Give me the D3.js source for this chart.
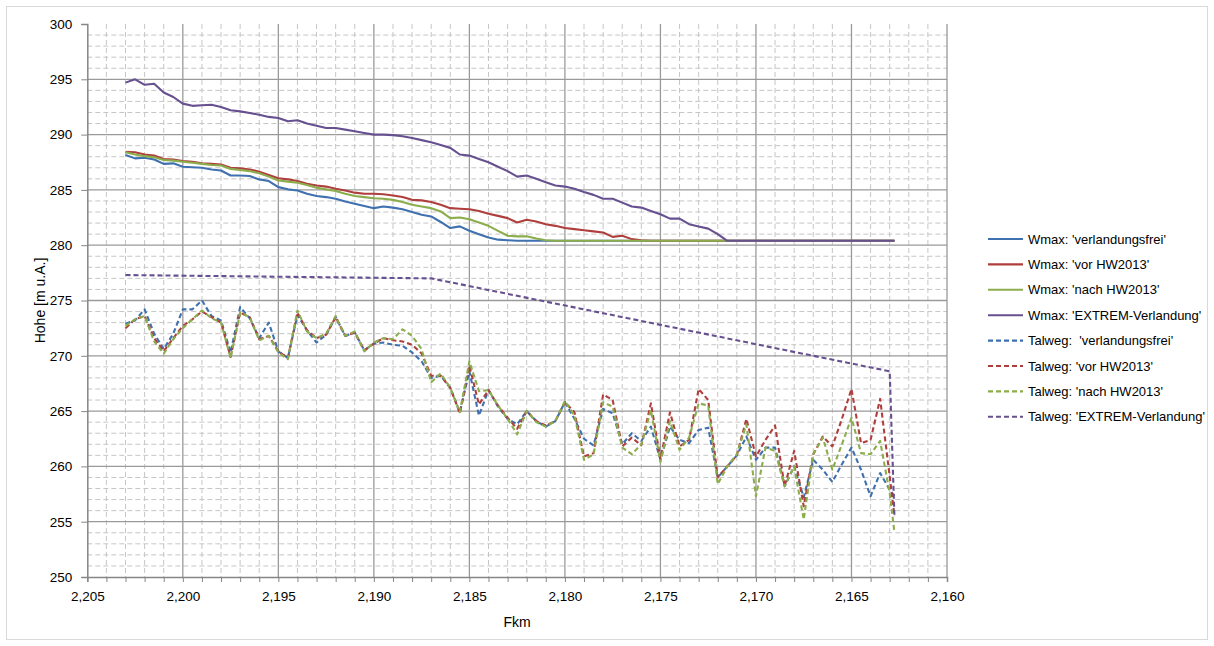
<!DOCTYPE html>
<html>
<head>
<meta charset="utf-8">
<script src="https://cdn.jsdelivr.net/npm/d3@7"></script>
<style>
  body { margin: 0; background: #fff; }
  svg { font-family: 'Liberation Sans', Arial, sans-serif; }
</style>
</head>
<body>
<svg id="chart"></svg>
<script>
// river kilometre of each cross section (shared by all series except the EXTREM talweg)
const fkm = [
  2203, 2202.5, 2202, 2201.5, 2201, 2200.5, 2200, 2199.5, 2199, 2198.5,
  2198, 2197.5, 2197, 2196.5, 2196, 2195.5, 2195, 2194.5, 2194, 2193.5,
  2193, 2192.5, 2192, 2191.5, 2191, 2190.5, 2190, 2189.5, 2189, 2188.5,
  2188, 2187.5, 2187, 2186.5, 2186, 2185.5, 2185, 2184.5, 2184, 2183.5,
  2183, 2182.5, 2182, 2181.5, 2181, 2180.5, 2180, 2179.5, 2179, 2178.5,
  2178, 2177.5, 2177, 2176.5, 2176, 2175.5, 2175, 2174.5, 2174, 2173.5,
  2173, 2172.5, 2172, 2171.5, 2171, 2170.5, 2170, 2169.5, 2169, 2168.5,
  2168, 2167.5, 2167, 2166.5, 2166, 2165.5, 2165, 2164.5, 2164, 2163.5,
  2163, 2162.75
];

const wmaxFrei = [
  288.15, 287.85, 287.9, 287.75, 287.35, 287.4, 287.1, 287.05, 287.0, 286.85,
  286.75, 286.3, 286.3, 286.25, 285.95, 285.8, 285.25, 285.05, 284.95, 284.65,
  284.45, 284.35, 284.2, 283.95, 283.75, 283.55, 283.35, 283.5, 283.4, 283.25,
  283.0, 282.75, 282.6, 282.1, 281.55, 281.7, 281.3, 281.0, 280.7, 280.5,
  280.45, 280.4, 280.4, 280.4, 280.4, 280.4, 280.4, 280.4, 280.4, 280.4,
  280.4, 280.4, 280.4, 280.4, 280.4, 280.4, 280.4, 280.4, 280.4, 280.4,
  280.4, 280.4, 280.4, 280.4, 280.4, 280.4, 280.4, 280.4, 280.4, 280.4,
  280.4, 280.4, 280.4, 280.4, 280.4, 280.4, 280.4, 280.4, 280.4, 280.4,
  280.4, 280.4
];

const wmaxVor = [
  288.45, 288.4, 288.2, 288.1, 287.8, 287.75, 287.6, 287.55, 287.4, 287.35,
  287.3, 287.0, 286.95, 286.85, 286.65, 286.35, 286.05, 285.95, 285.8, 285.55,
  285.4, 285.3, 285.1, 284.95, 284.75, 284.65, 284.65, 284.6, 284.5, 284.35,
  284.1, 284.05, 283.9, 283.65, 283.35, 283.3, 283.25, 283.1, 282.85, 282.65,
  282.45, 282.05, 282.3, 282.15, 281.9, 281.75, 281.55, 281.45, 281.35, 281.25,
  281.15, 280.75, 280.85, 280.55, 280.45, 280.4, 280.4, 280.4, 280.4, 280.4,
  280.4, 280.4, 280.4, 280.4, 280.4, 280.4, 280.4, 280.4, 280.4, 280.4,
  280.4, 280.4, 280.4, 280.4, 280.4, 280.4, 280.4, 280.4, 280.4, 280.4,
  280.4, 280.4
];

const wmaxNach = [
  288.4, 288.2, 288.05, 287.95, 287.7, 287.65, 287.55, 287.45, 287.35, 287.25,
  287.2, 286.9, 286.8, 286.7, 286.5, 286.2, 285.85, 285.75, 285.65, 285.45,
  285.2, 285.05, 284.9, 284.65, 284.45, 284.35, 284.25, 284.2, 284.1, 283.9,
  283.65, 283.5, 283.35, 283.05, 282.45, 282.5, 282.35, 282.05, 281.75, 281.3,
  280.85, 280.8, 280.8, 280.6, 280.45, 280.4, 280.4, 280.4, 280.4, 280.4,
  280.4, 280.4, 280.4, 280.4, 280.4, 280.4, 280.4, 280.4, 280.4, 280.4,
  280.4, 280.4, 280.4, 280.4, 280.4, 280.4, 280.4, 280.4, 280.4, 280.4,
  280.4, 280.4, 280.4, 280.4, 280.4, 280.4, 280.4, 280.4, 280.4, 280.4,
  280.4, 280.4
];

const wmaxExtrem = [
  294.7, 295.0, 294.5, 294.6, 293.8, 293.4, 292.8, 292.6, 292.65, 292.7,
  292.5, 292.2, 292.1, 291.95, 291.8, 291.6, 291.5, 291.2, 291.3, 291.0,
  290.8, 290.6, 290.6, 290.45, 290.3, 290.15, 290.0, 290.0, 289.95, 289.85,
  289.7, 289.5, 289.3, 289.05, 288.8, 288.2, 288.1, 287.8, 287.5, 287.1,
  286.7, 286.2, 286.3, 286.0, 285.7, 285.4, 285.3, 285.1, 284.8, 284.55,
  284.2, 284.2, 283.85, 283.5, 283.4, 283.1, 282.8, 282.4, 282.4, 281.9,
  281.7, 281.5, 281.0, 280.4, 280.4, 280.4, 280.4, 280.4, 280.4, 280.4,
  280.4, 280.4, 280.4, 280.4, 280.4, 280.4, 280.4, 280.4, 280.4, 280.4,
  280.4, 280.4
];

const talwegFrei = [
  272.9, 273.2, 274.2, 272.0, 270.6, 272.0, 274.2, 274.2, 275.0, 273.6,
  273.2, 270.3, 274.4, 273.4, 271.6, 273.0, 270.4, 269.8, 273.7, 272.3,
  271.2, 271.9, 273.5, 271.8, 272.1, 270.5, 271.1, 271.2, 271.0, 270.9,
  270.3, 269.5, 268.0, 268.2, 267.1, 264.9, 268.6, 264.6, 266.9, 265.4,
  264.3, 263.8, 265.0, 264.1, 263.6, 264.1, 265.8, 264.3, 262.5, 261.9,
  265.2, 264.8, 262.0, 263.0, 262.3, 263.6, 260.6, 263.6, 262.4, 262.1,
  263.3, 263.5, 259.0, 260.0, 261.0, 262.7, 260.6, 261.7, 261.7, 258.2,
  260.0, 257.2, 260.6, 259.7, 258.6, 260.2, 261.7, 259.7, 257.3, 259.4,
  257.9, 257.3
];

const talwegVor = [
  272.5, 273.3, 273.6, 271.6, 270.4, 271.6, 272.7, 273.3, 274.0, 273.5,
  273.0, 269.9, 273.9, 273.5, 271.5, 271.8, 270.4, 269.8, 273.9, 272.3,
  271.6, 271.9, 273.5, 271.8, 272.1, 270.5, 271.1, 271.6, 271.4, 271.3,
  271.0, 270.2, 268.2, 268.2, 267.1, 264.8, 269.1, 265.6, 266.9, 265.5,
  264.4, 263.4, 265.0, 264.1, 263.7, 264.1, 265.8, 264.9, 260.9, 261.2,
  266.5, 266.0, 261.8, 262.6, 261.9, 265.7, 260.7, 264.9, 261.8, 262.4,
  267.0, 266.0, 259.0, 260.0, 261.0, 264.3, 260.9, 262.4, 263.7, 258.2,
  261.4, 256.4, 261.1, 262.7, 261.8, 264.3, 267.0, 262.1, 262.4, 266.1,
  259.1, 255.5
];

const talwegNach = [
  272.7, 273.3, 273.6, 271.3, 270.2, 271.5, 272.5, 273.3, 274.1, 273.4,
  273.0, 269.8, 273.9, 273.5, 271.4, 271.8, 270.3, 269.7, 274.1, 272.2,
  271.6, 272.0, 273.6, 271.8, 272.2, 270.4, 271.2, 271.6, 271.5, 272.4,
  271.8, 270.6, 267.6, 268.4, 267.1, 264.9, 269.5, 266.8, 266.9, 265.5,
  264.3, 262.9, 265.0, 264.0, 263.6, 264.1, 265.9, 264.6, 260.6, 261.1,
  265.8, 265.4, 261.7, 261.1, 262.0, 265.1, 260.4, 264.1, 261.5, 262.6,
  265.7, 265.5, 258.4, 260.0, 261.1, 263.8, 257.3, 261.7, 261.4, 258.2,
  260.0, 255.2, 261.1, 262.6, 259.7, 262.0, 264.4, 261.2, 261.1, 262.3,
  257.6, 254.0
];

// the EXTREM talweg is a straight profile, only its break points are given
const fkmTalwegExtrem = [2203, 2187, 2163, 2162.75];
const talwegExtrem = [277.3, 277.0, 268.6, 255.4];

const seriesNames = [
  "Wmax: 'verlandungsfrei'", "Wmax: 'vor HW2013'", "Wmax: 'nach HW2013'", "Wmax: 'EXTREM-Verlandung'",
  "Talweg:  'verlandungsfrei'", "Talweg: 'vor HW2013'", "Talweg: 'nach HW2013'", "Talweg: 'EXTREM-Verlandung'"
];
const seriesColors = ['#3F70AF', '#AF3F3C', '#8CAD4B', '#67508F'];

const yTicks = [250, 255, 260, 265, 270, 275, 280, 285, 290, 295, 300];
const xTicks = [2205, 2200, 2195, 2190, 2185, 2180, 2175, 2170, 2165, 2160];

const width = 1214, height = 646;
const margin = { top: 24, right: 267, bottom: 69, left: 87.3 };

const svg = d3.select('#chart')
  .attr('width', width)
  .attr('height', height);

// outer chart border
svg.append('rect')
  .attr('x', 6.5).attr('y', 6.5)
  .attr('width', width - 13).attr('height', height - 13)
  .attr('fill', '#fff')
  .attr('stroke', '#d9d9d9');

const x = d3.scaleLinear()
  .domain([2205, 2160])
  .range([margin.left, width - margin.right]);

const y = d3.scaleLinear()
  .domain([250, 300])
  .range([height - margin.bottom, margin.top]);

// minor grid every 1 km / 1 m, dashed
const grid = svg.append('g').attr('class', 'grid');
const minorX = d3.range(2205, 2159.5, -1).filter(v => v % 5 !== 0);
const minorY = d3.range(251, 300, 1).filter(v => v % 5 !== 0);

grid.selectAll('.minor-x').data(minorX).join('line')
  .attr('x1', d => x(d)).attr('x2', d => x(d))
  .attr('y1', y(300)).attr('y2', y(250))
  .attr('stroke', '#c6c6c6')
  .attr('stroke-dasharray', '5,3');

grid.selectAll('.minor-y').data(minorY).join('line')
  .attr('x1', x(2205)).attr('x2', x(2160))
  .attr('y1', d => y(d)).attr('y2', d => y(d))
  .attr('stroke', '#c6c6c6')
  .attr('stroke-dasharray', '5,3');

// major grid
grid.selectAll('.major-x').data(xTicks.slice(1)).join('line')
  .attr('x1', d => x(d)).attr('x2', d => x(d))
  .attr('y1', y(300)).attr('y2', y(250))
  .attr('stroke', '#9a9a9a')
  .attr('stroke-width', 1.3);

grid.selectAll('.major-y').data(yTicks.slice(1, -1)).join('line')
  .attr('x1', x(2205)).attr('x2', x(2160))
  .attr('y1', d => y(d)).attr('y2', d => y(d))
  .attr('stroke', '#9a9a9a')
  .attr('stroke-width', 1.3);

// axes
const yAxis = svg.append('g')
  .attr('transform', `translate(${margin.left},0)`)
  .call(d3.axisLeft(y).tickValues(yTicks).tickSize(6).tickPadding(9).tickFormat(d3.format('d')));

const xAxis = svg.append('g')
  .attr('transform', `translate(0,${height - margin.bottom})`)
  .call(d3.axisBottom(x).tickValues(d3.range(2205, 2159.5, -1)).tickSize(5).tickPadding(9)
    .tickFormat(d => d % 5 === 0 ? d3.format(',')(d) : ''));

[yAxis, xAxis].forEach(ax => {
  ax.select('.domain').attr('stroke', '#868686').attr('stroke-width', 1.5);
  ax.selectAll('.tick line').attr('stroke', '#868686');
  ax.selectAll('.tick text')
    .attr('fill', '#000')
    .style('font-size', '13.5px')
    .style('font-family', "'Liberation Sans', Arial, sans-serif");
});

// axis titles
svg.append('text')
  .attr('x', x(2182.5))
  .attr('y', 627)
  .attr('text-anchor', 'middle')
  .style('font-size', '14px')
  .text('Fkm');

svg.append('text')
  .attr('transform', `translate(45,${y(275)}) rotate(-90)`)
  .attr('text-anchor', 'middle')
  .style('font-size', '14px')
  .text('Hohe [m u.A.]');

// series
const series = [
  { xs: fkm, ys: wmaxFrei, dashed: false },
  { xs: fkm, ys: wmaxVor, dashed: false },
  { xs: fkm, ys: wmaxNach, dashed: false },
  { xs: fkm, ys: wmaxExtrem, dashed: false },
  { xs: fkm, ys: talwegFrei, dashed: true },
  { xs: fkm, ys: talwegVor, dashed: true },
  { xs: fkm, ys: talwegNach, dashed: true },
  { xs: fkmTalwegExtrem, ys: talwegExtrem, dashed: true }
].map((s, i) => ({
  ...s,
  name: seriesNames[i],
  color: seriesColors[i % 4],
  points: s.xs.map((k, j) => [k, s.ys[j]])
}));

const line = d3.line()
  .x(d => x(d[0]))
  .y(d => y(d[1]));

svg.append('g').selectAll('path')
  .data(series)
  .join('path')
    .attr('d', d => line(d.points))
    .attr('fill', 'none')
    .attr('stroke', d => d.color)
    .attr('stroke-width', 2.1)
    .attr('stroke-linejoin', 'round')
    .attr('stroke-dasharray', d => d.dashed ? '5,3' : null);

// legend
const legend = svg.append('g')
  .attr('transform', 'translate(988,239)');

const rows = legend.selectAll('g')
  .data(series)
  .join('g')
    .attr('transform', (d, i) => `translate(0,${i * 25.4})`);

rows.append('line')
  .attr('x1', 0).attr('x2', 35)
  .attr('stroke', d => d.color)
  .attr('stroke-width', 2.1)
  .attr('stroke-dasharray', d => d.dashed ? '5,3' : null);

rows.append('text')
  .attr('x', 40)
  .attr('dy', '0.35em')
  .style('font-size', '13px')
  .style('white-space', 'pre')
  .text(d => d.name);
</script>
</body>
</html>
